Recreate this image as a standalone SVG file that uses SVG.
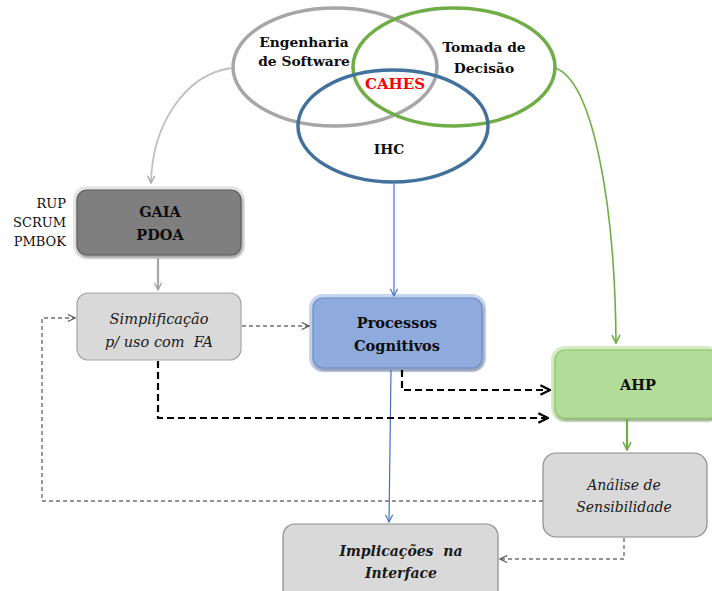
<svg xmlns="http://www.w3.org/2000/svg" width="712" height="591" viewBox="0 0 712 591">
<defs>
<style>
.t{font-family:"DejaVu Serif","Liberation Serif",serif;font-weight:bold;fill:#0d0d0d;text-anchor:middle}
.i{font-family:"DejaVu Serif","Liberation Serif",serif;font-style:italic;fill:#1a1a1a;text-anchor:middle;white-space:pre}
.gd{fill:none;stroke:#6f6f6f;stroke-width:1.4;stroke-dasharray:4 3}
.bd{fill:none;stroke:#000;stroke-width:2.2;stroke-dasharray:7 4}
</style>
<filter id="sh" x="-20%" y="-20%" width="140%" height="150%">
<feDropShadow dx="1" dy="2" stdDeviation="1.5" flood-color="#000" flood-opacity="0.35"/>
</filter>
<marker id="ag" viewBox="0 0 10 10" refX="9" refY="5" markerWidth="9" markerHeight="9" markerUnits="userSpaceOnUse" orient="auto"><path d="M1,1 L9,5 L1,9" fill="none" stroke="#a6a6a6" stroke-width="1.5"/></marker>
<marker id="agr" viewBox="0 0 10 10" refX="9" refY="5" markerWidth="10" markerHeight="10" markerUnits="userSpaceOnUse" orient="auto"><path d="M1,1 L9,5 L1,9" fill="none" stroke="#70ad47" stroke-width="1.6"/></marker>
<marker id="ab" viewBox="0 0 10 10" refX="9" refY="5" markerWidth="9" markerHeight="9" markerUnits="userSpaceOnUse" orient="auto"><path d="M1,1 L9,5 L1,9" fill="none" stroke="#4472c4" stroke-width="1.3"/></marker>
<marker id="ad" viewBox="0 0 10 10" refX="9" refY="5" markerWidth="9" markerHeight="9" markerUnits="userSpaceOnUse" orient="auto"><path d="M1,1 L9,5 L1,9" fill="none" stroke="#595959" stroke-width="1.3"/></marker>
<marker id="ak" viewBox="0 0 10 10" refX="9" refY="5" markerWidth="12" markerHeight="12" markerUnits="userSpaceOnUse" orient="auto"><path d="M1,1 L9,5 L1,9" fill="none" stroke="#000" stroke-width="1.8"/></marker>
</defs>

<g id="venn">
<ellipse cx="335" cy="67" rx="102" ry="59" fill="none" stroke="#a6a6a6" stroke-width="3.5"/>
<ellipse cx="454" cy="67" rx="101" ry="59" fill="none" stroke="#70ad47" stroke-width="3.5"/>
<ellipse cx="393" cy="126" rx="95" ry="56" fill="none" stroke="#41719c" stroke-width="3.5"/>
<text class="t" x="304" y="47" font-size="13.8">Engenharia</text>
<text class="t" x="304" y="66" font-size="13.8">de Software</text>
<text class="t" x="484" y="52" font-size="13.8">Tomada de</text>
<text class="t" x="484" y="73" font-size="13.8">Decisão</text>
<text class="t" x="395" y="89" font-size="15" style="fill:#ff0000">CAHES</text>
<text class="t" x="389" y="154" font-size="13.8">IHC</text>
</g>

<g id="methods">
<text class="t" style="font-weight:normal;text-anchor:end" x="66" y="208" font-size="13">RUP</text>
<text class="t" style="font-weight:normal;text-anchor:end" x="66" y="227" font-size="13">SCRUM</text>
<text class="t" style="font-weight:normal;text-anchor:end" x="66" y="246" font-size="13">PMBOK</text>
</g>

<g id="gaia">
<rect x="75" y="188" width="168" height="69" rx="12" fill="none" stroke="#e6e6e6" stroke-width="4"/>
<rect x="77" y="190" width="164" height="65" rx="10" fill="#7f7f7f" stroke="#5a5a5a" stroke-width="1.2" filter="url(#sh)"/>
<text class="t" x="160" y="217" font-size="14.5">GAIA</text>
<text class="t" x="160" y="240" font-size="14.5">PDOA</text>
</g>

<g id="simplificacao">
<rect x="77" y="293" width="164" height="67" rx="11" fill="#d9d9d9" stroke="#a6a6a6" stroke-width="1.2"/>
<text class="i" x="159" y="324" font-size="14.5">Simplificação</text>
<text class="i" x="159" y="347" font-size="14.5">p/ uso com  FA</text>
</g>

<g id="processos">
<rect x="311" y="296" width="173" height="74" rx="12" fill="none" stroke="#c7d6f0" stroke-width="4"/>
<rect x="313" y="298" width="169" height="70" rx="10" fill="#8faadc" stroke="#6d8cc4" stroke-width="1.2" filter="url(#sh)"/>
<text class="t" x="397" y="328" font-size="14.5">Processos</text>
<text class="t" x="397" y="351" font-size="14.5">Cognitivos</text>
</g>

<g id="ahp">
<rect x="553" y="348" width="165" height="72" rx="12" fill="none" stroke="#d5ecc5" stroke-width="4"/>
<rect x="555" y="350" width="165" height="68" rx="10" fill="#b3dc98" stroke="#8cc46a" stroke-width="1.2" filter="url(#sh)"/>
<text class="t" x="638" y="390" font-size="14.5">AHP</text>
</g>

<g id="analise">
<rect x="543" y="453" width="164" height="84" rx="13" fill="#d9d9d9" stroke="#8c8c8c" stroke-width="1.2"/>
<text class="i" x="624" y="490" font-size="14">Análise de</text>
<text class="i" x="624" y="512" font-size="14">Sensibilidade</text>
</g>

<g id="implicacoes">
<rect x="283" y="524" width="215" height="80" rx="12" fill="#d9d9d9" stroke="#8c8c8c" stroke-width="1.2"/>
<text class="i" style="font-weight:bold" x="401" y="556" font-size="14">Implicações  na</text>
<text class="i" style="font-weight:bold" x="401" y="578" font-size="14">Interface</text>
</g>

<g id="connectors">
<path d="M232,68 C185,74 152,125 151,183" fill="none" stroke="#bfbfbf" stroke-width="1.8" marker-end="url(#ag)"/>
<path d="M555,68 C592,80 615,200 616,343" fill="none" stroke="#70ad47" stroke-width="1.6" marker-end="url(#agr)"/>
<path d="M394,184 L394,296" fill="none" stroke="#4472c4" stroke-width="1.2" marker-end="url(#ab)"/>
<path d="M391,370 L389,522" fill="none" stroke="#4472c4" stroke-width="1.2" marker-end="url(#ab)"/>
<path d="M158,258 L158,290" fill="none" stroke="#a6a6a6" stroke-width="2.2" marker-end="url(#ag)"/>
<path d="M627,419 L627,450" fill="none" stroke="#70ad47" stroke-width="2.2" marker-end="url(#agr)"/>
<path class="gd" d="M242,326 L309,326" marker-end="url(#ad)"/>
<path class="gd" d="M543,501 L42,501 L42,318 L75,318" marker-end="url(#ad)"/>
<path class="gd" d="M624,538 L624,559 L500,559" marker-end="url(#ad)"/>
<path class="bd" d="M402,370 L402,390 L550,390" marker-end="url(#ak)"/>
<path class="bd" d="M158,361 L158,418 L548,418" marker-end="url(#ak)"/>
</g>
</svg>
